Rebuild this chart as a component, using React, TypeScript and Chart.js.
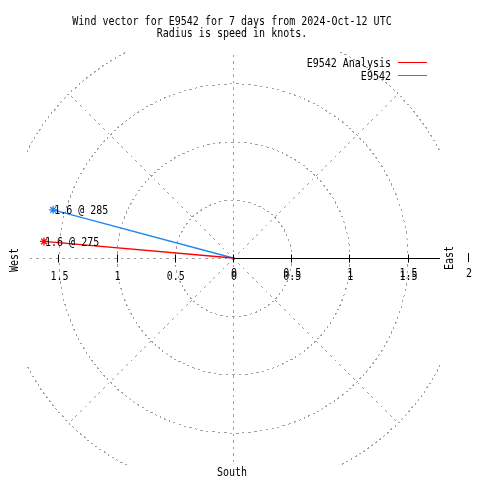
import React, { useEffect, useRef } from "react";
import { Chart, registerables } from "chart.js";

Chart.register(...registerables);

const titleLines = ["Wind vector for E9542 for 7 days from 2024-Oct-12 UTC", "Radius is speed in knots."];
const seriesNames = ["E9542 Analysis", "E9542"];
const speeds = [1.63, 1.6];
const directions = [275, 285];
const seriesColors = ["#ff0000", "#1e88f0"];
const tickValues = [0.5, 1, 1.5];
const ringRadii = [0.5, 1, 1.5, 2];
const spokeAngles = [0, 45, 90, 135, 180, 225, 270, 315];
const compassLabels = ["West", "East", "South"];
const outerLabel = "2";

const FONT = '13px "DejaVu Sans Mono"';
const SX = 0.77;
const GRID = "#a0a0a0";
const DASH_ON = 2.5;
const DASH_PERIOD = 6.5;

function txt(ctx: CanvasRenderingContext2D, s: string, x: number, y: number, align: CanvasTextAlign, rot = 0) {
  ctx.save();
  ctx.translate(x, y);
  if (rot) ctx.rotate(rot);
  ctx.scale(SX, 1);
  ctx.font = FONT;
  ctx.fillStyle = "#000";
  ctx.textAlign = align;
  ctx.textBaseline = "alphabetic";
  ctx.fillText(s, 0, 0);
  ctx.restore();
}

type Box = { left: number; top: number; right: number; bottom: number };

function plot(ctx: CanvasRenderingContext2D, x: number, y: number, a: Box) {
  if (x >= a.left && x <= a.right && y >= a.top && y <= a.bottom) ctx.fillRect(x, y, 1, 1);
}

function dashLine(ctx: CanvasRenderingContext2D, x0: number, y0: number, x1: number, y1: number, a: Box) {
  x0 = Math.round(x0); y0 = Math.round(y0); x1 = Math.round(x1); y1 = Math.round(y1);
  const dx = Math.abs(x1 - x0), dy = -Math.abs(y1 - y0);
  const sx = x0 < x1 ? 1 : -1, sy = y0 < y1 ? 1 : -1;
  let err = dx + dy;
  let s = 0;
  let x = x0, y = y0;
  for (;;) {
    if (s % DASH_PERIOD < DASH_ON) plot(ctx, x, y, a);
    if (x === x1 && y === y1) break;
    const e2 = 2 * err;
    let mx = 0, my = 0;
    if (e2 >= dy) { err += dy; x += sx; mx = 1; }
    if (e2 <= dx) { err += dx; y += sy; my = 1; }
    s += mx && my ? Math.SQRT2 : 1;
  }
}

function dashCircle(ctx: CanvasRenderingContext2D, cx: number, cy: number, r: number, a: Box) {
  const steps = Math.ceil(2 * Math.PI * r * 3);
  let px = NaN, py = NaN, s = 0;
  for (let i = 0; i <= steps; i++) {
    const t = (i / steps) * Math.PI * 2;
    const x = Math.round(cx + r * Math.cos(t));
    const y = Math.round(cy - r * Math.sin(t));
    if (x === px && y === py) continue;
    if (!isNaN(px)) s += x !== px && y !== py ? Math.SQRT2 : 1;
    px = x; py = y;
    if (s % DASH_PERIOD < DASH_ON) plot(ctx, x, y, a);
  }
}

const polarPlugin = {
  id: "polarGrid",
  beforeDatasetsDraw(chart: any) {
    const { ctx, chartArea: a, scales } = chart;
    const xs = scales.x, ys = scales.y;
    const cx = xs.getPixelForValue(0), cy = ys.getPixelForValue(0);
    const box = { left: Math.round(a.left), top: Math.round(a.top), right: Math.round(a.right), bottom: Math.round(a.bottom) };
    ctx.save();
    ctx.fillStyle = GRID;
    for (const r of ringRadii) {
      const pr = xs.getPixelForValue(r) - cx;
      dashCircle(ctx, Math.round(cx), Math.round(cy), pr, box);
    }
    const rMax = ringRadii[ringRadii.length - 1];
    for (const ang of spokeAngles) {
      const t = (ang * Math.PI) / 180;
      const ex = xs.getPixelForValue(rMax * Math.sin(t));
      const ey = ys.getPixelForValue(rMax * Math.cos(t));
      dashLine(ctx, cx, cy, ex, ey, box);
    }
    ctx.restore();
    // solid axis on the right half
    ctx.save();
    ctx.strokeStyle = "#000";
    ctx.lineWidth = 1;
    const yy = Math.round(cy) + 0.5;
    ctx.beginPath();
    ctx.moveTo(Math.round(cx), yy);
    ctx.lineTo(a.right + 1, yy);
    ctx.stroke();
    const allTicks = [0, ...tickValues, ...tickValues.map((v) => -v)];
    for (const v of allTicks) {
      const px = Math.round(xs.getPixelForValue(v)) + 0.5;
      ctx.beginPath();
      ctx.moveTo(px, yy - 4);
      ctx.lineTo(px, yy + 4);
      ctx.stroke();
    }
    ctx.restore();
  },
  afterDatasetsDraw(chart: any) {
    const { ctx, chartArea: a, scales } = chart;
    const xs = scales.x, ys = scales.y;
    const cx = xs.getPixelForValue(0), cy = ys.getPixelForValue(0);
    // titles
    txt(ctx, titleLines[0], 232, 25, "center");
    txt(ctx, titleLines[1], 232, 37, "center");
    // legend
    const legY = [62.5, 75.5];
    seriesNames.forEach((n, i) => {
      txt(ctx, n, 391, legY[i] + 4.5, "right");
      ctx.save();
      ctx.strokeStyle = seriesColors[i];
      ctx.lineWidth = 1;
      ctx.beginPath();
      ctx.moveTo(398, legY[i]);
      ctx.lineTo(427, legY[i]);
      ctx.stroke();
      ctx.restore();
    });
    // tick labels
    const base = cy + 22;
    for (const v of tickValues) {
      txt(ctx, String(v), xs.getPixelForValue(-v) + 1, base, "center");
      txt(ctx, String(v), xs.getPixelForValue(v) + 1, base, "center");
      txt(ctx, String(v), xs.getPixelForValue(v) + 1, base - 3, "center");
    }
    txt(ctx, "0", cx + 1, base, "center");
    txt(ctx, "0", cx + 1, base - 3, "center");
    // compass labels
    txt(ctx, compassLabels[0], 18, cy + 2, "center", -Math.PI / 2);
    txt(ctx, compassLabels[1], a.right + 14, cy, "center", -Math.PI / 2);
    txt(ctx, compassLabels[2], 232, 476, "center");
    ctx.save();
    ctx.strokeStyle = "#000";
    ctx.beginPath();
    ctx.moveTo(468.5, 253);
    ctx.lineTo(468.5, 262);
    ctx.stroke();
    ctx.restore();
    txt(ctx, outerLabel, 469, 277, "center");
    // vector labels
    speeds.forEach((s, i) => {
      const t = (directions[i] * Math.PI) / 180;
      const px = xs.getPixelForValue(s * Math.sin(t));
      const py = ys.getPixelForValue(s * Math.cos(t));
      txt(ctx, `${s.toFixed(1)} @ ${directions[i]}`, px + 1, py + 4.5, "left");
    });
  },
};

export default function App() {
  const ref = useRef<HTMLCanvasElement | null>(null);
  useEffect(() => {
    if (!ref.current) return;
    const datasets = seriesNames.map((name, i) => {
      const t = (directions[i] * Math.PI) / 180;
      return {
        label: name,
        data: [
          { x: 0, y: 0 },
          { x: speeds[i] * Math.sin(t), y: speeds[i] * Math.cos(t) },
        ],
        showLine: true,
        borderColor: seriesColors[i],
        backgroundColor: seriesColors[i],
        borderWidth: 1.3,
        pointStyle: "star" as const,
        pointRadius: [0, 4],
        pointBorderWidth: 1.3,
        pointBorderColor: seriesColors[i],
      };
    });
    const chart = new Chart(ref.current, {
      type: "scatter",
      data: { datasets },
      options: {
        responsive: false,
        animation: false,
        layout: { padding: { left: 27, right: 41, top: 52, bottom: 16 } },
        scales: {
          x: { type: "linear", min: -1.77, max: 1.77, display: false },
          y: { type: "linear", min: -1.77, max: 1.77, display: false },
        },
        plugins: { legend: { display: false }, tooltip: { enabled: false } },
      },
      plugins: [polarPlugin],
    });
    return () => chart.destroy();
  }, []);
  return (
    <div style={{ position: "absolute", left: 0, top: 0, width: 480, height: 480, background: "#fff" }}>
      <canvas ref={ref} width={480} height={480} style={{ display: "block" }} />
    </div>
  );
}
